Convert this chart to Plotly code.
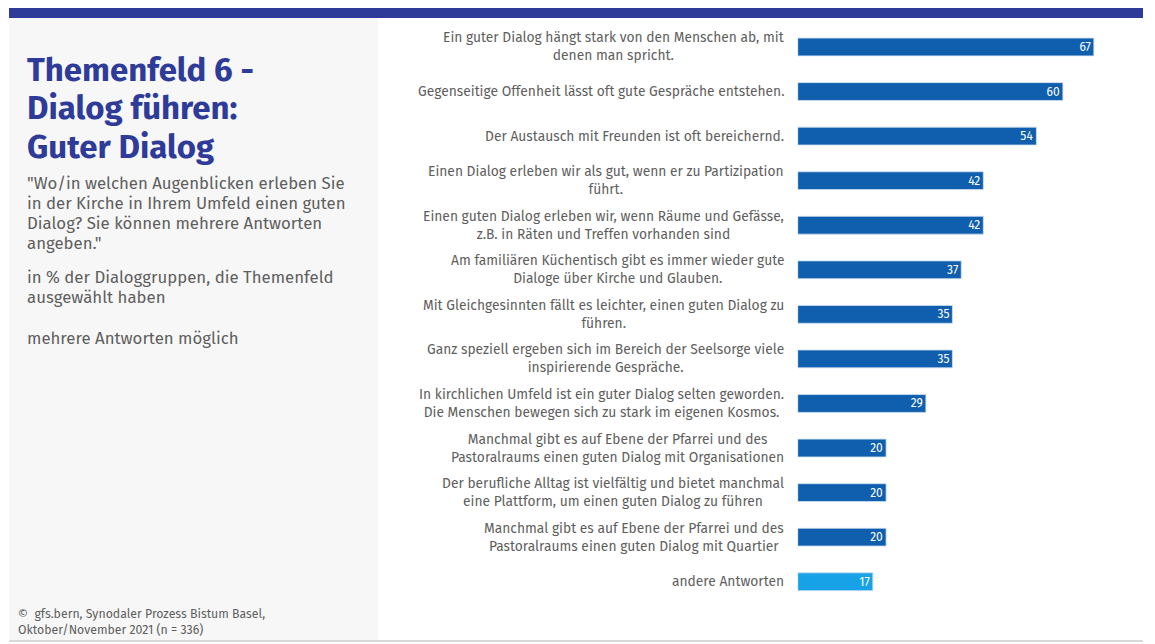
import plotly.graph_objects as go

W, H = 1155, 644
# the page body adds an 8px margin; positions below are in screen pixels
OFF = 8

categories = [
    "Ein guter Dialog hängt stark von den Menschen ab, mit<br>denen man spricht.",
    "Gegenseitige Offenheit lässt oft gute Gespräche entstehen.",
    "Der Austausch mit Freunden ist oft bereichernd.",
    "Einen Dialog erleben wir als gut, wenn er zu Partizipation<br>führt.",
    "Einen guten Dialog erleben wir, wenn Räume und Gefässe,<br>z.B. in Räten und Treffen vorhanden sind",
    "Am familiären Küchentisch gibt es immer wieder gute<br>Dialoge über Kirche und Glauben.",
    "Mit Gleichgesinnten fällt es leichter, einen guten Dialog zu<br>führen.",
    "Ganz speziell ergeben sich im Bereich der Seelsorge viele<br>inspirierende Gespräche.",
    "In kirchlichen Umfeld ist ein guter Dialog selten geworden.<br>Die Menschen bewegen sich zu stark im eigenen Kosmos.",
    "Manchmal gibt es auf Ebene der Pfarrei und des<br>Pastoralraums einen guten Dialog mit Organisationen",
    "Der berufliche Alltag ist vielfältig und bietet manchmal<br>eine Plattform, um einen guten Dialog zu führen",
    "Manchmal gibt es auf Ebene der Pfarrei und des<br>Pastoralraums einen guten Dialog mit Quartier",
    "andere Antworten",
]
values = [67, 60, 54, 42, 42, 37, 35, 35, 29, 20, 20, 20, 17]
is_other = [False] * 12 + [True]

title_lines = ["Themenfeld 6 -", "Dialog führen:", "Guter Dialog"]
question_lines = ['"Wo/in welchen Augenblicken erleben Sie', "in der Kirche in Ihrem Umfeld einen guten",
                  "Dialog? Sie können mehrere Antworten", 'angeben."']
base_lines = ["in % der Dialoggruppen, die Themenfeld", "ausgewählt haben"]
multi_lines = ["mehrere Antworten möglich"]
source_lines = ["©  gfs.bern, Synodaler Prozess Bistum Basel,", "Oktober/November 2021 (n = 336)"]

DARK_BLUE = "#0f5fae"
LIGHT_BLUE = "#17a2e8"
NAVY = "#2e3b98"
GREY_TEXT = "#5e5e5e"
FONT = "Fira Sans, Open Sans, sans-serif"


def px_x(x):
    return (x - OFF) / W


def px_y(y):
    return 1 - (y - OFF) / H


ids = list(range(len(categories)))
colors = [LIGHT_BLUE if o else DARK_BLUE for o in is_other]

fig = go.Figure(go.Bar(
    y=ids, x=values, orientation="h",
    marker=dict(color=colors, line=dict(color="#cfe0f2", width=0.8)),
    width=0.4,
    text=[str(v) for v in values], textposition="inside", insidetextanchor="end",
    textangle=0, constraintext="none",
    textfont=dict(color="white", size=12, family=FONT),
    hoverinfo="skip",
))

x_start = 797.7
fig.update_xaxes(range=[0, 75], domain=[px_x(x_start), px_x(x_start + 75 * 4.42)],
                 visible=False, fixedrange=True)
fig.update_yaxes(range=[len(categories) - 0.5, -0.5], domain=[px_y(604), px_y(24.7)],
                 visible=False, fixedrange=True)

annotations = []
for i, cat in enumerate(categories):
    annotations.append(dict(
        x=px_x(x_start), xref="paper", y=i, yref="y", text=cat,
        xanchor="right", yanchor="middle", align="center", xshift=-12, showarrow=False,
        font=dict(size=13.8, color=GREY_TEXT, family=FONT),
    ))


def text_block(lines, x, y0, step, size, color, bold=False):
    for k, line in enumerate(lines):
        annotations.append(dict(
            x=px_x(x), y=px_y(y0 + k * step), xref="paper", yref="paper",
            text=f"<b>{line}</b>" if bold else line,
            xanchor="left", yanchor="middle", align="left", showarrow=False,
            font=dict(size=size, color=color, family=FONT),
        ))


text_block(title_lines, 25, 70, 38.5, 33, NAVY, bold=True)
text_block(question_lines, 25, 182.5, 20.2, 16.8, GREY_TEXT)
text_block(base_lines, 25, 276.5, 20.2, 16.8, GREY_TEXT)
text_block(multi_lines, 25, 338, 20.2, 16.8, GREY_TEXT)
text_block(source_lines, 16, 613, 16, 12.3, GREY_TEXT)

shapes = [
    dict(type="rect", xref="paper", yref="paper", layer="below",
         x0=px_x(9), x1=px_x(378), y0=px_y(640), y1=px_y(18),
         fillcolor="#f7f7f7", line=dict(width=0)),
    dict(type="rect", xref="paper", yref="paper",
         x0=px_x(9), x1=px_x(1143), y0=px_y(18), y1=px_y(8),
         fillcolor=NAVY, line=dict(width=0)),
    dict(type="line", xref="paper", yref="paper",
         x0=px_x(9), x1=px_x(1143), y0=px_y(641), y1=px_y(641),
         line=dict(color="#cccccc", width=1.5)),
]

fig.update_layout(
    width=W, height=H,
    margin=dict(l=0, r=0, t=0, b=0),
    paper_bgcolor="white", plot_bgcolor="rgba(0,0,0,0)",
    showlegend=False,
    font=dict(family=FONT, color=GREY_TEXT),
    annotations=annotations, shapes=shapes,
)

fig.write_html("out.html", config={"displayModeBar": False})
